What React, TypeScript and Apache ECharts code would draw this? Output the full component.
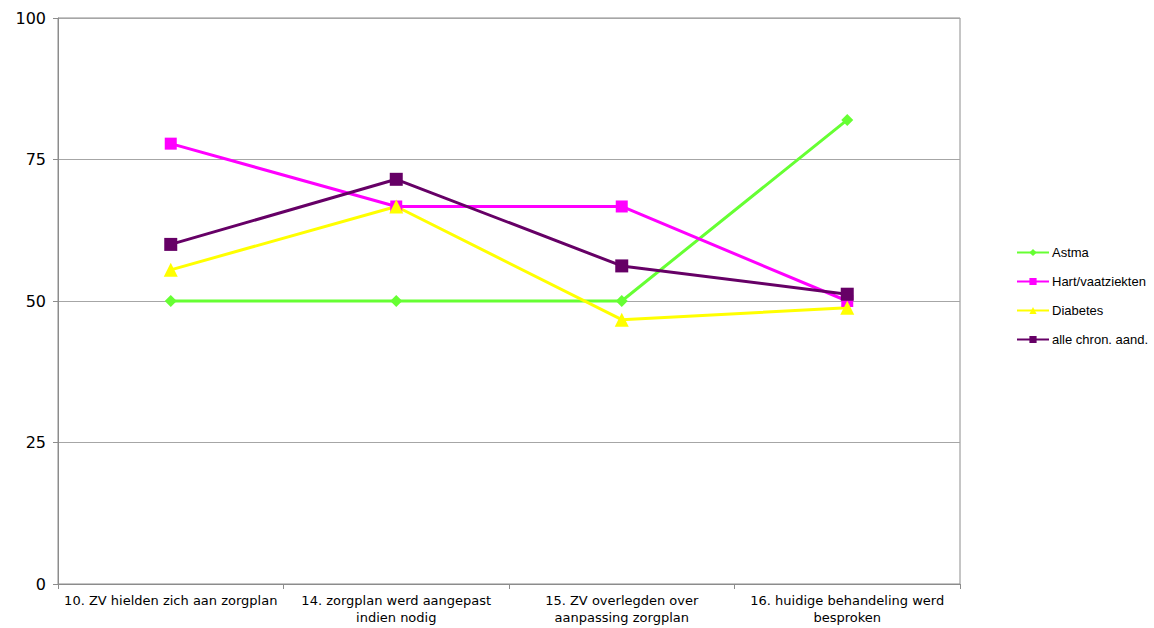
import React, { useEffect, useRef } from "react";
import * as echarts from "echarts";

const categories = [
  "10. ZV hielden zich aan zorgplan",
  "14. zorgplan werd aangepast\nindien nodig",
  "15. ZV overlegden over\naanpassing zorgplan",
  "16. huidige behandeling werd\nbesproken",
];
const astma = [50, 50, 50, 82];
const hart = [77.8, 66.7, 66.7, 50];
const diabetes = [55.5, 66.7, 46.7, 48.8];
const alleChron = [60, 71.5, 56.2, 51.2];
const seriesNames = ["Astma", "Hart/vaatziekten", "Diabetes", "alle chron. aand."];

export default function App() {
  const ref = useRef<HTMLDivElement>(null);
  useEffect(() => {
    if (!ref.current) return;
    const chart = echarts.init(ref.current, undefined, { renderer: "svg" });
    const mk = (name: string, data: number[], color: string, symbol: string, size: number) => ({
      name,
      type: "line",
      data,
      symbol,
      symbolSize: size,
      lineStyle: { color, width: 3 },
      itemStyle: { color },
      emphasis: { disabled: true },
    });
    chart.setOption({
      animation: false,
      backgroundColor: "#ffffff",
      grid: {
        left: 58,
        top: 18,
        width: 902,
        height: 566,
        show: true,
        borderColor: "#8c8c8c",
        borderWidth: 1,
        backgroundColor: "transparent",
      },
      legend: {
        orient: "vertical",
        left: 1011,
        top: 241,
        itemWidth: 32,
        itemHeight: 9,
        itemGap: 16,
        data: seriesNames,
        textStyle: { fontFamily: "Liberation Sans, Arial", fontSize: 13, color: "#000", padding: [0, 0, 0, -2] },
      },
      xAxis: {
        type: "category",
        data: categories,
        boundaryGap: true,
        axisLine: { lineStyle: { color: "#8c8c8c" } },
        axisTick: { show: true, length: 5, interval: 0, lineStyle: { color: "#8c8c8c" } },
        axisLabel: {
          interval: 0,
          fontFamily: "DejaVu Sans, Verdana",
          fontSize: 13,
          color: "#000",
          lineHeight: 17,
          margin: 8,
        },
        splitLine: { show: false },
      },
      yAxis: {
        type: "value",
        min: 0,
        max: 100,
        interval: 25,
        axisLine: { show: true, lineStyle: { color: "#8c8c8c" } },
        axisTick: { show: true, length: 5, lineStyle: { color: "#8c8c8c" } },
        axisLabel: {
          fontFamily: "DejaVu Sans, Verdana",
          fontSize: 16,
          color: "#000",
          margin: 12,
        },
        splitLine: { show: true, lineStyle: { color: "#a6a6a6", width: 1 } },
      },
      series: [
        mk(seriesNames[0], astma, "#66ff33", "diamond", 12),
        mk(seriesNames[1], hart, "#ff00ff", "rect", 12),
        mk(seriesNames[2], diabetes, "#ffff00", "triangle", 14),
        mk(seriesNames[3], alleChron, "#660066", "rect", 13),
      ],
    });
    return () => chart.dispose();
  }, []);
  return (
    <div
      ref={ref}
      style={{ position: "fixed", left: 0, top: 0, width: 1154, height: 628 }}
    />
  );
}
